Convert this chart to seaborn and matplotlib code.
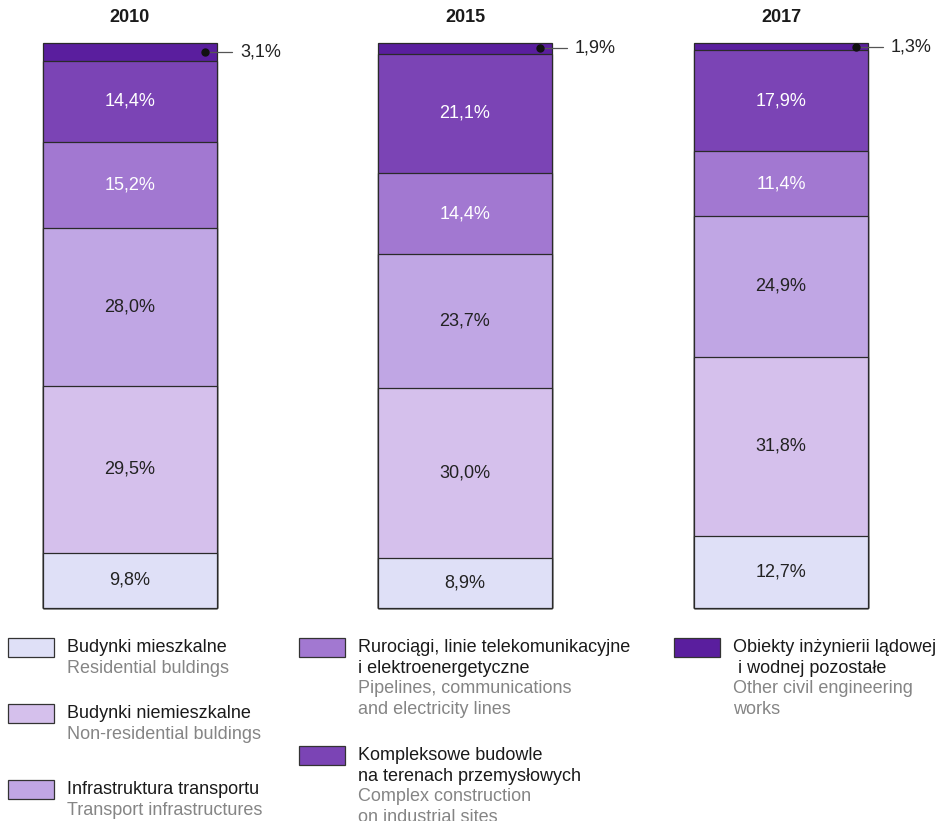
import pandas as pd
import seaborn as sns
import matplotlib.pyplot as plt
from matplotlib.patches import Rectangle

# data (shares in %)
years = ['2010', '2015', '2017']
categories = ['Budynki mieszkalne', 'Budynki niemieszkalne', 'Infrastruktura transportu',
              'Rurociągi', 'Kompleksowe budowle', 'Obiekty inżynierii']
residential = [9.8, 8.9, 12.7]
non_residential = [29.5, 30.0, 31.8]
transport = [28.0, 23.7, 24.9]
pipelines = [15.2, 14.4, 11.4]
complex_sites = [14.4, 21.1, 17.9]
other = [3.1, 1.9, 1.3]

colors = ['#dfe0f7', '#d5c0ec', '#c0a6e4', '#a278d1', '#7b44b5', '#5a1e9e']
label_colors = ['#222222', '#222222', '#222222', 'white', 'white', None]

legend_pl = [
    ['Budynki mieszkalne'],
    ['Budynki niemieszkalne'],
    ['Infrastruktura transportu'],
    ['Rurociągi, linie telekomunikacyjne', 'i elektroenergetyczne'],
    ['Kompleksowe budowle', 'na terenach przemysłowych'],
    ['Obiekty inżynierii lądowej', ' i wodnej pozostałe'],
]
legend_en = [
    ['Residential buldings'],
    ['Non-residential buldings'],
    ['Transport infrastructures'],
    ['Pipelines, communications', 'and electricity lines'],
    ['Complex construction', 'on industrial sites'],
    ['Other civil engineering', 'works'],
]

sns.set_style('white')
plt.rcParams['font.family'] = ['Liberation Sans', 'DejaVu Sans']

W, H = 945, 821
fig = plt.figure(figsize=(W / 100, H / 100), dpi=100)


def fx(x):
    return x / W


def fy(y):
    return 1 - y / H


series = [residential, non_residential, transport, pipelines, complex_sites, other]
bar_left = [43, 378, 694]
bar_w = 174
bar_top, bar_bot = 43, 608
fs = 13

for i, year in enumerate(years):
    ax = fig.add_axes([fx(bar_left[i]), fy(bar_bot), fx(bar_w), (bar_bot - bar_top) / H])
    vals = [s[i] for s in series]
    df = pd.DataFrame({'cat': categories, 'val': vals, 'year': year})
    df['top'] = df['val'].cumsum()
    df['mid'] = df['top'] - df['val'] / 2
    # classic stacked trick: draw cumulative bars from tallest to shortest
    for j in range(len(df) - 1, -1, -1):
        sns.barplot(x=[year], y=[df['top'].iloc[j]], color=colors[j], width=1,
                    edgecolor='#2a2a2a', linewidth=0.9, saturation=1, ax=ax)
    for p in ax.patches:
        p.set_clip_on(False)
    ax.set_xlim(-0.5, 0.5)
    ax.set_ylim(0, 100)
    ax.axis('off')

    for j in range(len(df) - 1):
        txt = f"{df['val'].iloc[j]:.1f}".replace('.', ',') + '%'
        ax.text(0, df['mid'].iloc[j], txt, ha='center', va='center',
                fontsize=fs, color=label_colors[j])
    # small top segment labelled outside
    y_o = df['mid'].iloc[-1]
    ax.plot([0.431, 0.586], [y_o, y_o], color='#555555', lw=0.9, clip_on=False)
    ax.plot([0.431], [y_o], 'o', color='#111111', ms=5, clip_on=False)
    ax.text(0.632, y_o, f"{df['val'].iloc[-1]:.1f}".replace('.', ',') + '%',
            ha='left', va='center', fontsize=fs, color='#222222', clip_on=False)
    ax.text(0.5, 1 + 25 / (bar_bot - bar_top), year, transform=ax.transAxes,
            ha='center', va='center', fontsize=fs, fontweight='bold', color='#1a1a1a')

# legend built by hand in three columns
leg_pos = [(8, 638), (8, 704), (8, 780), (299, 638), (299, 746), (674, 638)]
line_h = 20.5
for k, (px, py) in enumerate(leg_pos):
    fig.patches.append(Rectangle((fx(px), fy(py + 19)), fx(46), 19 / H,
                                 transform=fig.transFigure, facecolor=colors[k],
                                 edgecolor='#333333', linewidth=0.9))
    ty = py + 9.5
    for line in legend_pl[k]:
        fig.text(fx(px + 59), fy(ty), line, ha='left', va='center',
                 fontsize=fs, color='#1a1a1a')
        ty += line_h
    for line in legend_en[k]:
        fig.text(fx(px + 59), fy(ty), line, ha='left', va='center',
                 fontsize=fs, color='#858585')
        ty += line_h

fig.savefig('out.png', dpi=100)
